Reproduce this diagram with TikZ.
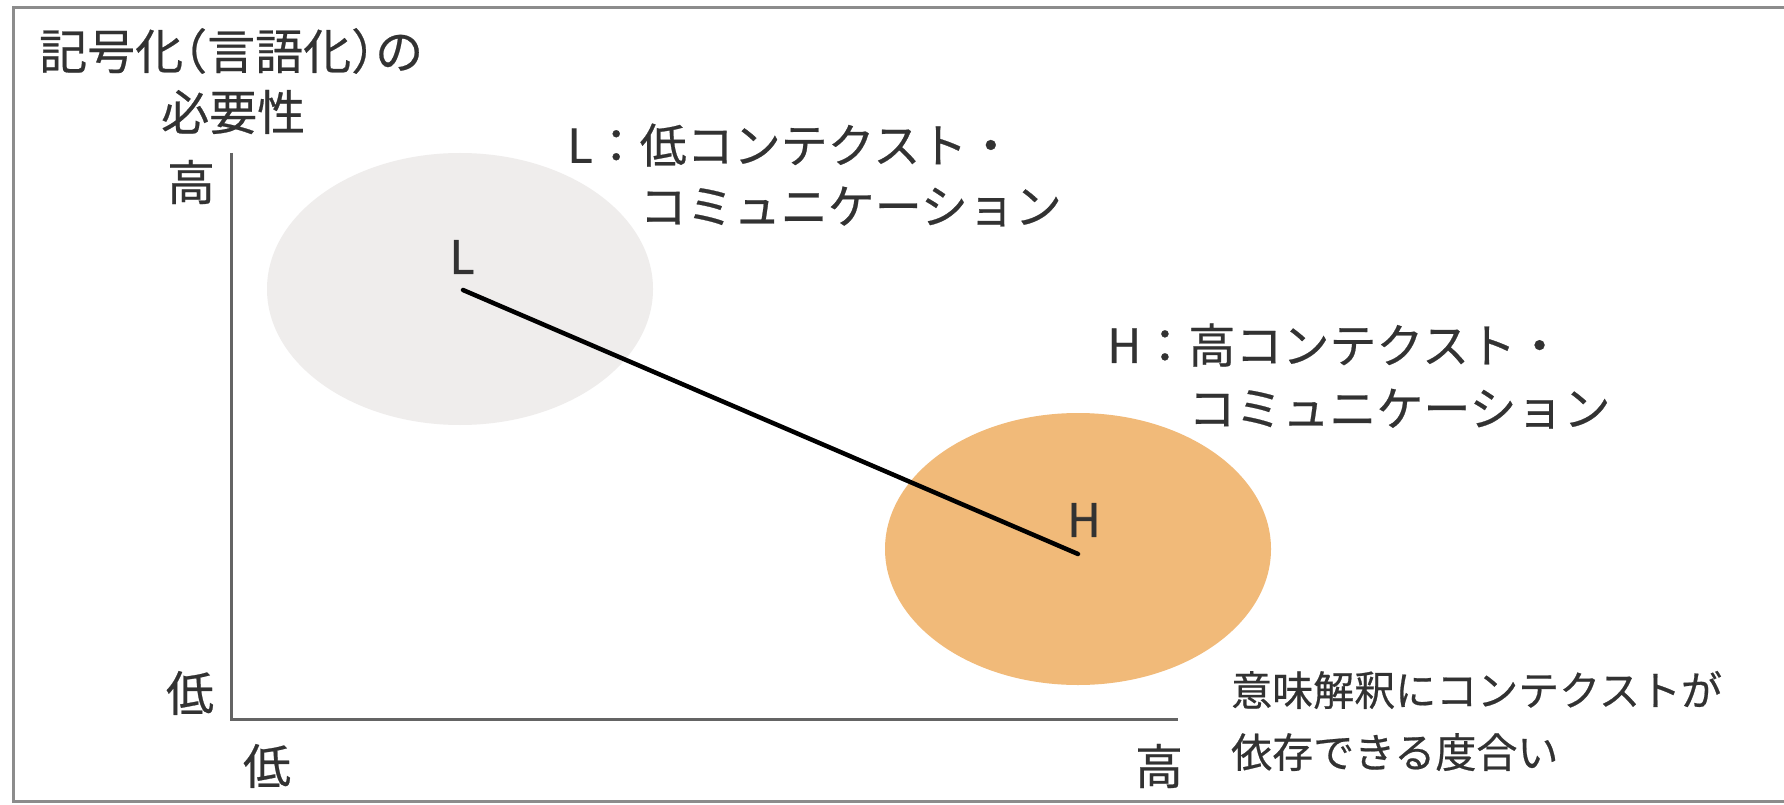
\documentclass[tikz,border=0pt]{standalone}
\usepackage{fontspec}
\setmainfont{Noto Sans CJK JP}
\newfontfamily\jp[FakeBold=0.5]{Noto Sans CJK JP}
\newfontfamily\jphalt[RawFeature=+halt,FakeBold=0.5]{Noto Sans CJK JP}
\newfontfamily\jpbold[FakeBold=1.2]{Noto Sans CJK JP}
\usetikzlibrary{shapes.geometric}
\definecolor{txt}{RGB}{50,50,50}
\definecolor{framegray}{RGB}{140,140,140}
\definecolor{axisgray}{RGB}{100,100,100}
\definecolor{blobgray}{RGB}{239,237,236}
\definecolor{bloborange}{RGB}{241,186,121}
\tikzset{
  blob/.style={ellipse, minimum width=386pt, minimum height=272pt, inner sep=0pt},
  lbl/.style={inner sep=0pt, text=txt},
  tick/.style={lbl, font=\jp\fontsize{48}{52}\selectfont},
  pointlabel/.style={lbl, font=\jpbold\fontsize{46}{50}\selectfont},
  axisline/.style={draw=axisgray, line width=3pt},
  link/.style={draw=black, line width=4.5pt, line cap=round},
}
\begin{document}
\begin{tikzpicture}[x=1pt, y=-1pt]
\useasboundingbox (0,0) rectangle (1784,805);
\fill[white] (0,0) rectangle (1784,805);
% frame
\draw[framegray, line width=3pt] (1784,8) -- (13,8) -- (13,801) -- (1784,801);
% ellipses
\node[blob, fill=blobgray] (ell) at (460,289) {};
\node[blob, fill=bloborange] (elh) at (1078,549) {};
% axes
\coordinate (ytop) at (231,153);
\coordinate (origin) at (231,719);
\coordinate (xend) at (1178,719);
\draw[axisline] (ytop) -- (origin) -- (xend);
% link
\coordinate (pL) at (463,290);
\coordinate (pH) at (1078,554);
\draw[link] (pL) -- (pH);
\node[pointlabel] (Lmark) at (462,257) {L};
\node[pointlabel] (Hmark) at (1084,520) {H};
% title
\node[lbl, anchor=west, font=\jphalt\fontsize{48}{54}\selectfont] (title1) at (39,51) {記号化（言語化）の};
\node[lbl, anchor=west, font=\jp\fontsize{48}{54}\selectfont] (title2) at (161,112) {必要性};
% ticks
\node[tick] (yhigh) at (191,182) {高};
\node[tick] (ylow) at (190,693) {低};
\node[tick] (xlow) at (267,766) {低};
\node[tick] (xhigh) at (1159,766) {高};
% L / H descriptions
\node[lbl, anchor=west, align=left, font=\jp\fontsize{47}{61}\selectfont] (Ldesc) at (567,175) {L：低コンテクスト・\\\phantom{L：}コミュニケーション};
\node[lbl, anchor=west, align=left, font=\jp\fontsize{47}{63}\selectfont] (Hdesc) at (1107,376) {H：高コンテクスト・\\\phantom{H：}コミュニケーション};
% x axis title
\node[lbl, anchor=west, align=left, font=\jp\fontsize{41}{62}\selectfont] (xtitle) at (1231,721) {意味解釈にコンテクストが\\依存できる度合い};
\end{tikzpicture}
\end{document}
